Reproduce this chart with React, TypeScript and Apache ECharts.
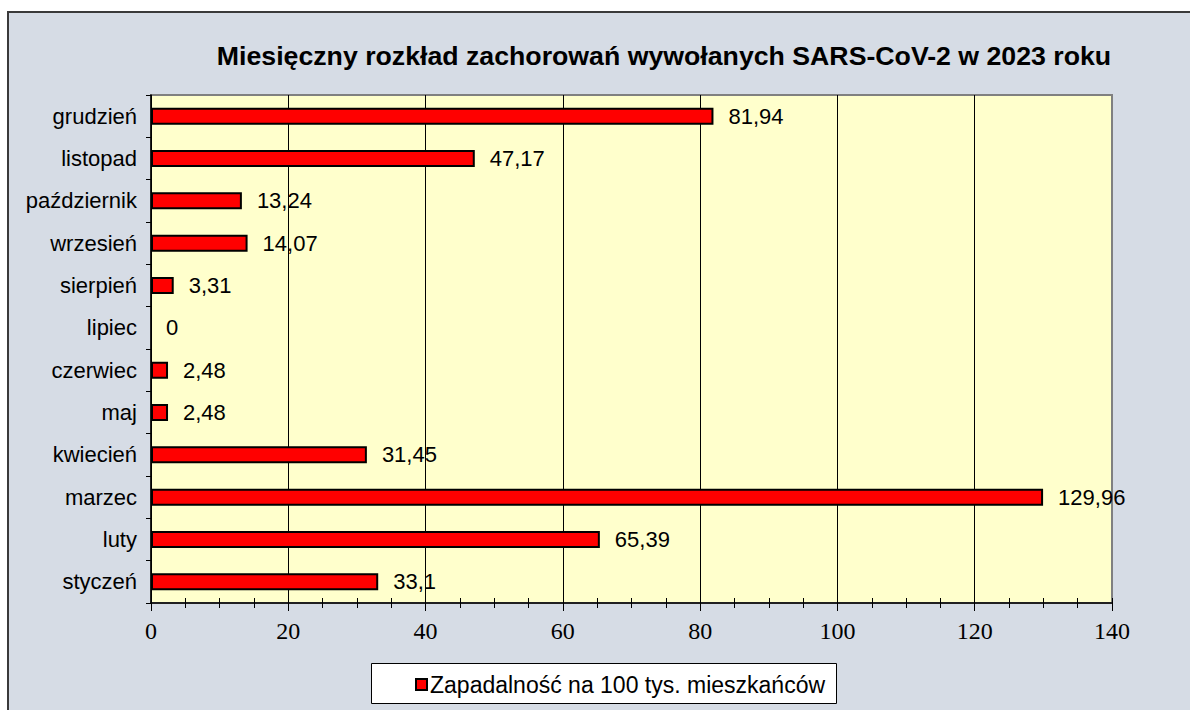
import React, { useEffect, useRef } from "react";
import * as echarts from "echarts";

const months = [
  "styczeń", "luty", "marzec", "kwiecień", "maj", "czerwiec",
  "lipiec", "sierpień", "wrzesień", "październik", "listopad", "grudzień",
];
const values = [33.1, 65.39, 129.96, 31.45, 2.48, 2.48, 0, 3.31, 14.07, 13.24, 47.17, 81.94];
const seriesName = "Zapadalność na 100 tys. mieszkańców";
const title = "Miesięczny rozkład zachorowań wywołanych SARS-CoV-2 w 2023 roku";

export default function App() {
  const ref = useRef<HTMLDivElement>(null);
  useEffect(() => {
    const chart = echarts.init(ref.current!, null, { renderer: "svg" });
    const sans = "Liberation Sans";
    const serif = "Liberation Serif";
    chart.setOption({
      animation: false,
      backgroundColor: "#ffffff",
      graphic: [
        {
          type: "rect",
          z: -10,
          shape: { x: 8, y: 12, width: 1200, height: 720 },
          style: { fill: "#d6dce5", stroke: "#3a3a3a", lineWidth: 2 },
        },
        {
          type: "text",
          x: 664,
          y: 56,
          style: {
            text: title,
            fontFamily: sans,
            fontWeight: "bold",
            fontSize: 26.7,
            fill: "#000",
            textAlign: "center",
            textVerticalAlign: "middle",
          },
        },
        {
          type: "rect",
          z: 1,
          shape: { x: 371.5, y: 663.5, width: 465, height: 40 },
          style: { fill: "#ffffff", stroke: "#000", lineWidth: 1 },
        },
      ],
      grid: {
        left: 151,
        right: 78,
        top: 95,
        bottom: 107,
        show: true,
        backgroundColor: "#ffffcc",
        borderColor: "#808080",
        borderWidth: 2,
      },
      legend: {
        left: 410,
        top: 668,
        z: 10,
        icon: "rect",
        itemWidth: 11,
        itemHeight: 11,
        itemGap: 4,
        textStyle: { fontFamily: sans, fontSize: 23, color: "#000", padding: [0, 0, 0, -2] },
        data: [seriesName],
      },
      xAxis: [
        {
          type: "value",
          min: 0,
          max: 140,
          interval: 20,
          axisLine: { show: true, lineStyle: { color: "#000", width: 1.5 } },
          axisTick: { show: true, length: 8, lineStyle: { color: "#000" } },
          minorTick: { show: true, splitNumber: 4, length: 5, lineStyle: { color: "#000" } },
          axisLabel: {
            show: true,
            fontFamily: serif,
            fontSize: 24,
            color: "#000",
            margin: 16,
          },
          splitLine: { show: true, showMaxLine: false, lineStyle: { color: "#000", width: 1 } },
        },
        {
          type: "value",
          position: "bottom",
          min: 0,
          max: 140,
          interval: 20,
          axisLine: { show: false },
          axisTick: { show: true, inside: true, length: 5, lineStyle: { color: "#000" } },
          minorTick: { show: true, splitNumber: 4, length: 5, lineStyle: { color: "#000" } },
          axisLabel: { show: false },
          splitLine: { show: false },
        },
      ],
      yAxis: {
        type: "category",
        data: months,
        axisLine: { show: true, lineStyle: { color: "#000", width: 1.5 } },
        axisTick: { show: true, length: 5, lineStyle: { color: "#000" } },
        axisLabel: { fontFamily: sans, fontSize: 22, color: "#000", margin: 14 },
        splitLine: { show: false },
      },
      series: [
        {
          name: seriesName,
          type: "bar",
          xAxisIndex: 0,
          data: values.map((v) => (v === 0 ? { value: v, itemStyle: { borderWidth: 0 } } : v)),
          barWidth: 17,
          itemStyle: { color: "#ff0000", borderColor: "#000", borderWidth: 2 },
          label: {
            show: true,
            position: "right",
            distance: 15,
            fontFamily: sans,
            fontSize: 22,
            color: "#000",
            formatter: (p: any) => String(p.value).replace(".", ","),
          },
        },
      ],
    });
    return () => chart.dispose();
  }, []);
  return (
    <div
      ref={ref}
      style={{ position: "absolute", left: 0, top: 0, width: 1190, height: 710 }}
    />
  );
}
